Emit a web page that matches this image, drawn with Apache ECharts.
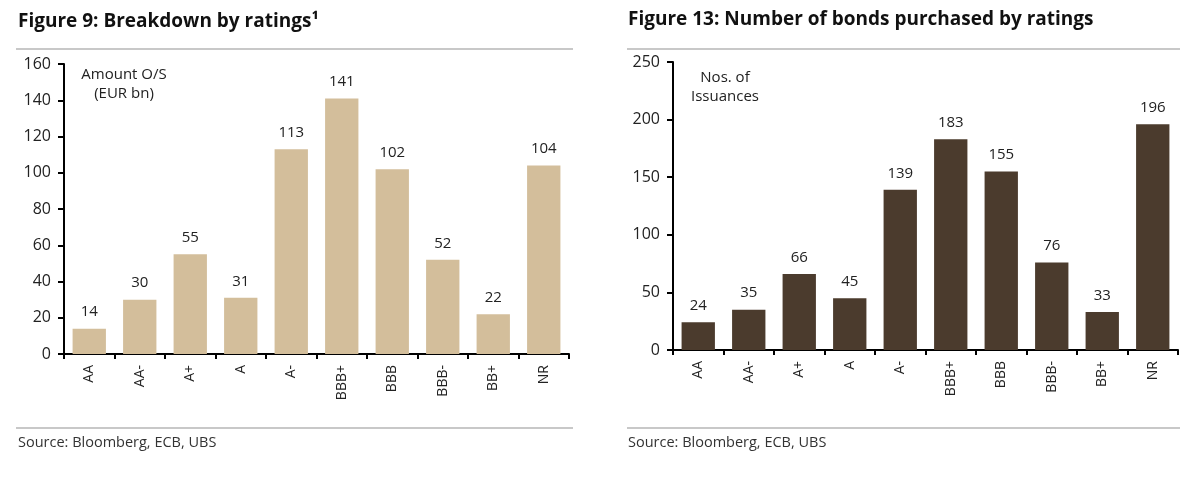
<!DOCTYPE html>
<html><head><meta charset="utf-8">
<script src="https://cdn.jsdelivr.net/npm/echarts@6/dist/echarts.min.js"></script>
<style>html,body{margin:0;padding:0;background:#fff}#c{width:1200px;height:477px}</style>
</head><body><div id="c"></div>
<script>
const categories = ['AA','AA-','A+','A','A-','BBB+','BBB','BBB-','BB+','NR'];
const amountValues = [14,30,55,31,113,141,102,52,22,104];
const countValues = [24,35,66,45,139,183,155,76,33,196];
const leftTicks = {min:0,max:160,interval:20};
const rightTicks = {min:0,max:250,interval:50};

const FONT = '"Open Sans", "Liberation Sans", sans-serif';
const chart = echarts.init(document.getElementById('c'));
function xAx(gi){
  return {type:'category',gridIndex:gi,data:categories,
    axisLine:{lineStyle:{color:'#000',width:2}},
    axisTick:{show:true,alignWithLabel:false,length:5,lineStyle:{color:'#000',width:2}},
    axisLabel:{rotate:90,color:'#222',fontFamily:FONT,fontSize:14,margin:11}};
}
function yAx(gi,t){
  return {type:'value',gridIndex:gi,min:t.min,max:t.max,interval:t.interval,
    splitLine:{show:false},
    axisLine:{show:true,lineStyle:{color:'#000',width:2}},
    axisTick:{show:true,length:6,lineStyle:{color:'#000',width:2}},
    axisLabel:{color:'#222',fontFamily:FONT,fontSize:16,margin:13}};
}
function lbl(){return {show:true,position:'top',distance:9,color:'#222',fontFamily:FONT,fontSize:15};}
chart.setOption({
  animation:false,
  title:[
    {text:'Figure 9: Breakdown by ratings¹',left:18,top:12,padding:0,textStyle:{fontFamily:FONT,fontWeight:'bold',fontSize:19,color:'#111'}},
    {text:'Figure 13: Number of bonds purchased by ratings',left:628,top:10,padding:0,textStyle:{fontFamily:FONT,fontWeight:'bold',fontSize:19,color:'#111'}}
  ],
  grid:[
    {left:64,right:631,top:64,bottom:123},
    {left:673,right:22,top:62,bottom:127}
  ],
  xAxis:[xAx(0),xAx(1)],
  yAxis:[yAx(0,leftTicks),yAx(1,rightTicks)],
  series:[
    {type:'bar',xAxisIndex:0,yAxisIndex:0,data:amountValues,barCategoryGap:'34%',itemStyle:{color:'#D3BE9B'},label:lbl()},
    {type:'bar',xAxisIndex:1,yAxisIndex:1,data:countValues,barCategoryGap:'34%',itemStyle:{color:'#4B3B2D'},label:lbl()}
  ],
  graphic:[
    {type:'line',shape:{x1:16,y1:49,x2:573,y2:49},style:{stroke:'#c8c8c8',lineWidth:2}},
    {type:'line',shape:{x1:627,y1:49,x2:1180,y2:49},style:{stroke:'#c8c8c8',lineWidth:2}},
    {type:'line',shape:{x1:16,y1:428,x2:573,y2:428},style:{stroke:'#c8c8c8',lineWidth:2}},
    {type:'line',shape:{x1:627,y1:428,x2:1180,y2:428},style:{stroke:'#c8c8c8',lineWidth:2}},
    {type:'text',x:18,y:443,style:{text:'Source: Bloomberg, ECB, UBS',fill:'#333',font:'14.5px '+FONT,textVerticalAlign:'middle'}},
    {type:'text',x:628,y:443,style:{text:'Source: Bloomberg, ECB, UBS',fill:'#333',font:'14.5px '+FONT,textVerticalAlign:'middle'}},
    {type:'text',x:124,y:84,style:{text:'Amount O/S\n(EUR bn)',fill:'#222',font:'15px '+FONT,textAlign:'center',textVerticalAlign:'middle',lineHeight:19}},
    {type:'text',x:725,y:87,style:{text:'Nos. of\nIssuances',fill:'#222',font:'15px '+FONT,textAlign:'center',textVerticalAlign:'middle',lineHeight:19}}
  ]
});
</script></body></html>
